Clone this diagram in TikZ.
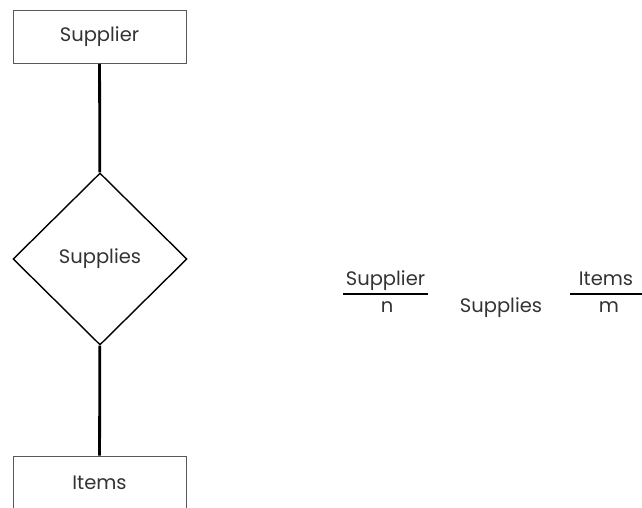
\documentclass[tikz,border=0pt]{standalone}
\usepackage{fontspec}
\setmainfont{Poppins}
\usetikzlibrary{shapes.geometric,positioning}

\begin{document}
\begin{tikzpicture}
[
	x=1pt,
	y=-1pt,
	txt/.style={text=black!80,font=\fontsize{19.5}{23}\selectfont},
	entity/.style={rectangle,draw=black!65,line width=0.9pt,minimum width=173pt,minimum height=53pt,inner sep=0pt},
	relation/.style={diamond,draw,line width=1.4pt,minimum width=174pt,minimum height=172pt,inner sep=0pt},
	link/.style={line width=2.8pt},
	ratio/.style={inner xsep=0pt,inner ysep=3pt,text depth=5pt,anchor=south}
]
	\useasboundingbox (0,0) rectangle (642,508);

	% entity-relationship diagram
	\node[entity,txt] (supplier) at (99.5,37) {Supplier};
	\node[relation,txt] (supplies) at (100,259) {Supplies};
	\node[entity,txt] (items) at (99.5,482.5) {Items};

	\draw[link] (supplier) -- (supplies);
	\draw[link] (supplies) -- (items);

	% short notation
	\node[txt,ratio,minimum width=85pt] (suplname) at (385.5,294) {Supplier};
	\node[txt,anchor=base] (suplcard) at (387,312) {n};
	\node[txt,anchor=base] (relname) at (501,312) {Supplies};
	\node[txt,ratio,minimum width=72pt] (itemname) at (606,294) {Items};
	\node[txt,anchor=base] (itemcard) at (609,312) {m};

	\draw[line width=1.4pt] (suplname.south west) -- (suplname.south east);
	\draw[line width=1.4pt] (itemname.south west) -- (itemname.south east);

\end{tikzpicture}
\end{document}
